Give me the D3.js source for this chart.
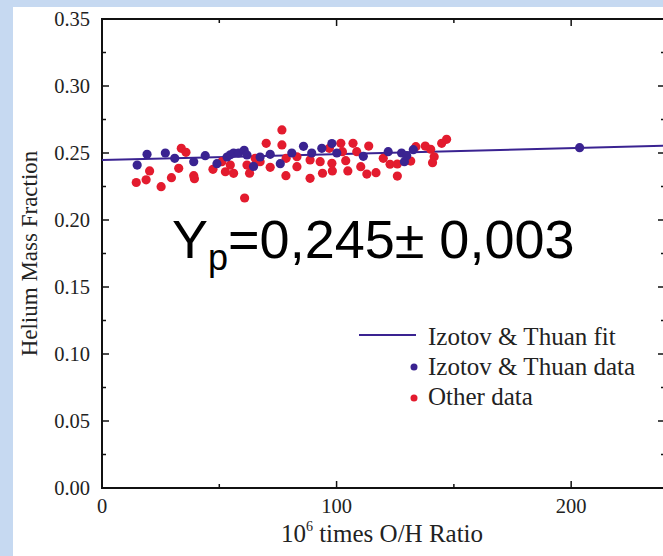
<!DOCTYPE html>
<html>
<head>
<meta charset="utf-8">
<script src="https://cdn.jsdelivr.net/npm/d3@7"></script>
<style>
  body { margin: 0; background: #c6d9f1; }
  svg { display: block; }
</style>
</head>
<body>
<div id="chart"></div>
<script>
// Izotov & Thuan data (10^6 O/H, Y)
const itX = [15.0, 19.2, 27.0, 31.0, 39.1, 44.0, 49.0, 53.3, 54.7, 56.1, 58.2, 60.6, 61.8, 64.6,
  67.4, 71.7, 76.0, 80.9, 85.9, 89.4, 93.7, 98.0, 100.1, 111.4, 122.0, 127.7, 128.9, 129.9, 132.7, 203.6];
const itY = [0.241, 0.249, 0.250, 0.246, 0.2435, 0.248, 0.242, 0.247, 0.2487, 0.250, 0.250, 0.252, 0.2485, 0.240,
  0.247, 0.249, 0.242, 0.250, 0.255, 0.250, 0.2535, 0.257, 0.250, 0.2475, 0.251, 0.250, 0.2435, 0.248, 0.2525, 0.254];

// other data
const otherX = [14.6, 18.8, 20.3, 25.2, 29.6, 32.7, 33.8, 35.8, 39.1, 39.4, 47.3, 51.1, 52.6, 54.7, 56.1,
  60.8, 61.8, 62.9, 65.3, 67.4, 70.0, 71.7, 76.7, 76.7, 78.5, 78.4, 83.1, 83.1, 88.7, 88.7,
  93.0, 94.0, 96.9, 98.0, 98.2, 101.8, 102.5, 103.9, 104.8, 107.0, 108.6, 110.3, 112.9, 113.7,
  116.8, 119.9, 122.8, 125.9, 125.9, 131.6, 133.8, 137.8, 140.1, 141.6, 140.9, 144.8, 146.9];
const otherY = [0.228, 0.230, 0.2366, 0.2249, 0.2316, 0.2386, 0.2535, 0.2505, 0.2331, 0.2308, 0.2378, 0.2435, 0.2360, 0.2410, 0.2348,
  0.2164, 0.241, 0.2349, 0.246, 0.2435, 0.2572, 0.2393, 0.2672, 0.256, 0.246, 0.2331, 0.2472, 0.2398, 0.2448, 0.2311,
  0.2435, 0.2349, 0.2535, 0.2423, 0.2366, 0.2572, 0.251, 0.2443, 0.2366, 0.2572, 0.251, 0.2398, 0.2343, 0.2552,
  0.2353, 0.246, 0.2416, 0.2418, 0.2328, 0.244, 0.2547, 0.2552, 0.2528, 0.2472, 0.2428, 0.2572, 0.2602];

// fit line end points
const fitX = [0, 240];
const fitY = [0.2447, 0.2554];

const yTicks = [0, 0.05, 0.10, 0.15, 0.20, 0.25, 0.30, 0.35];
const xTicks = [0, 100, 200];

const legendItems = ['Izotov & Thuan fit', 'Izotov & Thuan data', 'Other data'];

const blue = '#3a2391';
const red = '#e31b2e';

const svg = d3.select('#chart').append('svg')
    .attr('width', 663)
    .attr('height', 556);

// white panel
svg.append('rect')
    .attr('x', 13).attr('y', 7)
    .attr('width', 660).attr('height', 560)
    .attr('fill', '#fff');

const margin = {top: 19, left: 102};
const width = 563, height = 469;

const x = d3.scaleLinear().domain([0, 240]).range([0, width]);
const y = d3.scaleLinear().domain([0, 0.35]).range([height, 0]);

const g = svg.append('g')
    .attr('transform', 'translate(' + margin.left + ',' + margin.top + ')');

const serif = '"Liberation Serif", "Times New Roman", serif';

// frame
g.append('rect')
    .attr('width', width).attr('height', height)
    .attr('fill', 'none')
    .attr('stroke', '#111')
    .attr('stroke-width', 2);

// ticks (inside, all four sides)
const yMinor = d3.range(0.025, 0.35, 0.05);
const xMinor = [50, 150];

function tickLines(vals, len) {
  vals.forEach(v => {
    g.append('line').attr('x1', 0).attr('x2', len).attr('y1', y(v)).attr('y2', y(v))
        .attr('stroke', '#111').attr('stroke-width', 1.5);
    g.append('line').attr('x1', width).attr('x2', width - len).attr('y1', y(v)).attr('y2', y(v))
        .attr('stroke', '#111').attr('stroke-width', 1.5);
  });
}
tickLines(yTicks, 7);
tickLines(yMinor, 4);

function xTickLines(vals, len) {
  vals.forEach(v => {
    g.append('line').attr('x1', x(v)).attr('x2', x(v)).attr('y1', height).attr('y2', height - len)
        .attr('stroke', '#111').attr('stroke-width', 1.5);
    g.append('line').attr('x1', x(v)).attr('x2', x(v)).attr('y1', 0).attr('y2', len)
        .attr('stroke', '#111').attr('stroke-width', 1.5);
  });
}
xTickLines([100, 200], 7);
xTickLines(xMinor, 4);

// tick labels
g.selectAll('.ylab').data(yTicks).enter().append('text')
    .attr('class', 'ylab')
    .attr('x', -12)
    .attr('y', d => y(d) + 7)
    .attr('text-anchor', 'end')
    .attr('font-family', serif)
    .attr('font-size', 20.5)
    .attr('fill', '#222')
    .text(d => d.toFixed(2));

g.selectAll('.xlab').data(xTicks).enter().append('text')
    .attr('class', 'xlab')
    .attr('x', d => x(d))
    .attr('y', height + 25)
    .attr('text-anchor', 'middle')
    .attr('font-family', serif)
    .attr('font-size', 20.5)
    .attr('fill', '#222')
    .text(d => d);

// axis titles
svg.append('text')
    .attr('transform', 'translate(37,' + (margin.top + y(0.175)) + ') rotate(-90)')
    .attr('text-anchor', 'middle')
    .attr('font-family', serif)
    .attr('font-size', 23)
    .attr('fill', '#222')
    .text('Helium Mass Fraction');

const xt = svg.append('text')
    .attr('x', 382).attr('y', 542)
    .attr('text-anchor', 'middle')
    .attr('font-family', serif)
    .attr('font-size', 25)
    .attr('fill', '#222');
xt.append('tspan').text('10');
xt.append('tspan').attr('dy', -11).attr('font-size', 14).text('6');
xt.append('tspan').attr('dy', 11).text(' times O/H Ratio');

// fit line
const line = d3.line().x(d => x(d[0])).y(d => y(d[1]));
const plot = g.append('g');
plot.append('path')
    .datum(fitX.map((v, i) => [v, fitY[i]]))
    .attr('fill', 'none')
    .attr('stroke', blue)
    .attr('stroke-width', 2)
    .attr('d', line);

// points
plot.selectAll('.other').data(otherX.map((v, i) => [v, otherY[i]])).enter().append('circle')
    .attr('class', 'other')
    .attr('cx', d => x(d[0])).attr('cy', d => y(d[1]))
    .attr('r', 4.6)
    .attr('fill', red);

plot.selectAll('.it').data(itX.map((v, i) => [v, itY[i]])).enter().append('circle')
    .attr('class', 'it')
    .attr('cx', d => x(d[0])).attr('cy', d => y(d[1]))
    .attr('r', 4.6)
    .attr('fill', blue);

// Yp annotation
const yp = svg.append('text')
    .attr('x', 172).attr('y', 258)
    .attr('font-family', '"Liberation Sans", Arial, sans-serif')
    .attr('font-size', 54)
    .attr('fill', '#000');
yp.append('tspan').text('Y');
yp.append('tspan').attr('dy', 12).attr('font-size', 36).text('p');
yp.append('tspan').attr('dy', -12).text('=0,245\u00b1 0,003');

// legend
const leg = svg.append('g');
leg.append('line')
    .attr('x1', 359).attr('x2', 416).attr('y1', 335).attr('y2', 335)
    .attr('stroke', blue).attr('stroke-width', 2);
leg.append('circle').attr('cx', 414).attr('cy', 367).attr('r', 3.5).attr('fill', blue);
leg.append('circle').attr('cx', 414).attr('cy', 398).attr('r', 3.5).attr('fill', red);
leg.selectAll('.legtext').data(legendItems).enter().append('text')
    .attr('class', 'legtext')
    .attr('x', 428)
    .attr('y', (d, i) => 345 + i * 30)
    .attr('font-family', serif)
    .attr('font-size', 25)
    .attr('fill', '#222')
    .text(d => d);
</script>
</body>
</html>
